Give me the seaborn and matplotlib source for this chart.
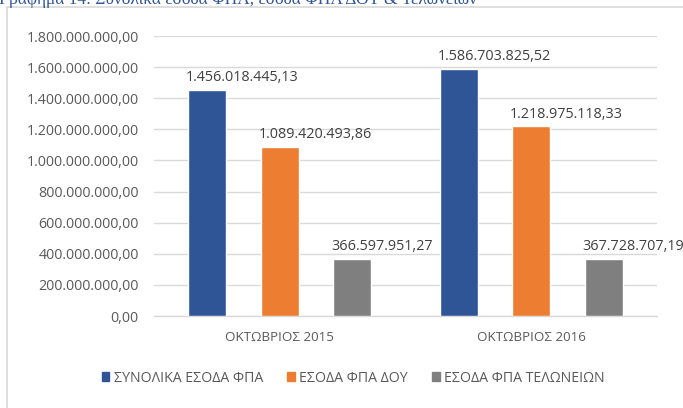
import pandas as pd
import matplotlib.pyplot as plt
import seaborn as sns
from matplotlib.lines import Line2D
from matplotlib.ticker import FuncFormatter

# values
months = ['ΟΚΤΩΒΡΙΟΣ 2015', 'ΟΚΤΩΒΡΙΟΣ 2016']
series = ['ΣΥΝΟΛΙΚΑ ΕΣΟΔΑ ΦΠΑ', 'ΕΣΟΔΑ ΦΠΑ ΔΟΥ', 'ΕΣΟΔΑ ΦΠΑ ΤΕΛΩΝΕΙΩΝ']
total_vat = [1456018445.13, 1586703825.52]
doy_vat = [1089420493.86, 1218975118.33]
customs_vat = [366597951.27, 367728707.19]
colors = ['#2F5597', '#ED7D31', '#7F7F7F']
y_ticks = [0, 200e6, 400e6, 600e6, 800e6, 1000e6, 1200e6, 1400e6, 1600e6, 1800e6]


def greek_fmt(v):
    """1,234.56 -> 1.234,56"""
    s = f'{v:,.2f}'
    return s.replace(',', 'X').replace('.', ',').replace('X', '.')


rows = []
for name, vals in zip(series, [total_vat, doy_vat, customs_vat]):
    for m, v in zip(months, vals):
        rows.append({'Month': m, 'Series': name, 'Value': v})
df = pd.DataFrame(rows)

sns.set_style('white')
plt.rcParams['font.family'] = ['Open Sans', 'DejaVu Sans']
text_gray = '#595959'
grid_gray = '#D9D9D9'

fig = plt.figure(figsize=(6.83, 4.08), dpi=100)
ax = fig.add_axes([154 / 683, 1 - 316 / 408, (657 - 154) / 683, (316 - 36) / 408])

sns.barplot(data=df, x='Month', y='Value', hue='Series', palette=colors,
            width=0.865, gap=0.48, saturation=1, ax=ax, zorder=3)

# data labels, left aligned with the bars
for container in ax.containers:
    for bar in container:
        h = bar.get_height()
        ax.annotate(greek_fmt(h), (bar.get_x() - 0.01, h), xytext=(0, 3.5),
                    textcoords='offset points', ha='left', va='bottom',
                    fontsize=10.4, color='#404040')

ax.set_ylim(0, 1.8e9)
ax.set_yticks(y_ticks)
ax.yaxis.set_major_formatter(FuncFormatter(lambda v, p: greek_fmt(v)))
ax.grid(axis='y', color=grid_gray, linewidth=1, zorder=0)
ax.set_axisbelow(True)
for s in ['top', 'right', 'left']:
    ax.spines[s].set_visible(False)
ax.spines['bottom'].set_color(grid_gray)
ax.spines['bottom'].set_linewidth(1)
ax.tick_params(axis='y', length=0, pad=11, labelsize=10.3, labelcolor=text_gray)
ax.tick_params(axis='x', length=0, pad=11, labelsize=9.6, labelcolor=text_gray)
ax.set_xlabel('')
ax.set_ylabel('')

ax.get_legend().remove()
handles = [plt.Rectangle((0, 0), 1, 1, color=c) for c in colors]
fig.legend(handles, series, loc='center', bbox_to_anchor=(353 / 683, 1 - 378 / 408),
           ncol=3, frameon=False, fontsize=10.2, labelcolor=text_gray,
           handlelength=0.55, handleheight=0.55, handletextpad=0.3, columnspacing=1.7)

# chart frame (only top and left edges are inside the crop)
fig.add_artist(Line2D([7 / 683, 1], [1 - 7 / 408] * 2, color=grid_gray, lw=1.2))
fig.add_artist(Line2D([7 / 683] * 2, [0, 1 - 7 / 408], color=grid_gray, lw=1.2))

# caption above the chart, cut off by the crop like in the source
fig.text(-0.002, 1 - 4 / 408, 'Γράφημα 14: Συνολικά έσοδα ΦΠΑ, έσοδα ΦΠΑ ΔΟΥ & Τελωνείων',
         family=['Liberation Serif'], fontsize=12.5, color='#2F5496',
         ha='left', va='baseline')

fig.savefig('out.png', dpi=100)
